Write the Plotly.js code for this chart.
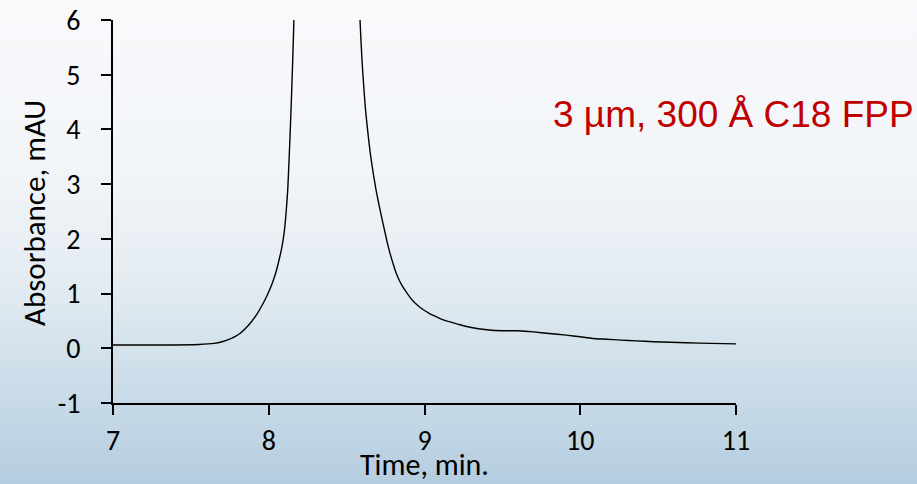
<!DOCTYPE html>
<html>
<head>
<meta charset="utf-8">
<script src="https://cdn.plot.ly/plotly-3.0.1.min.js"></script>
<style>
  html, body { margin: 0; padding: 0; }
  body {
    width: 917px; height: 484px; overflow: hidden;
    background: linear-gradient(to bottom, #f8f9fb 0%, #f2f5f8 35%, #e4ecf2 58%, #cfdfea 76%, #b5cde0 100%);
  }
  #chart { width: 917px; height: 484px; }
</style>
</head>
<body>
<div id="chart"></div>
<script>
// Chromatogram trace (time in min, absorbance in mAU); peak apex is off-scale
const timeMin = [7.00, 7.30, 7.55, 7.65, 7.70, 7.76, 7.815, 7.87, 7.923, 7.96, 7.99, 8.02, 8.045, 8.065, 8.085, 8.10, 8.112, 8.122, 8.132, 8.143, 8.152, 8.160, 8.20, 8.26, 8.33, 8.40, 8.47, 8.53, 8.586, 8.60, 8.62, 8.64, 8.655, 8.672, 8.689, 8.705, 8.719, 8.74, 8.761, 8.78, 8.80, 8.815, 8.832, 8.855, 8.88, 8.905, 8.928, 8.95, 8.97, 9.00, 9.03, 9.057, 9.09, 9.13, 9.18, 9.228, 9.30, 9.40, 9.50, 9.60, 9.70, 9.80, 9.91, 10.00, 10.08, 10.17, 10.26, 10.36, 10.47, 10.58, 10.68, 10.84, 11.00];
const absorbance = [0.06, 0.06, 0.07, 0.09, 0.12, 0.18, 0.27, 0.42, 0.62, 0.80, 0.97, 1.17, 1.38, 1.60, 1.86, 2.14, 2.50, 2.90, 3.55, 4.35, 5.10, 5.85, 11, 19, 25, 26, 21, 12, 6.00, 5.20, 4.40, 3.85, 3.50, 3.18, 2.89, 2.66, 2.47, 2.20, 1.93, 1.72, 1.53, 1.40, 1.28, 1.15, 1.04, 0.94, 0.86, 0.80, 0.75, 0.69, 0.64, 0.60, 0.555, 0.51, 0.47, 0.43, 0.38, 0.34, 0.32, 0.32, 0.30, 0.27, 0.24, 0.21, 0.18, 0.165, 0.15, 0.135, 0.12, 0.11, 0.10, 0.09, 0.08];
const xTicks = [7, 8, 9, 10, 11];
const yTicks = [-1, 0, 1, 2, 3, 4, 5, 6];
const xTitle = 'Time, min.';
const yTitle = 'Absorbance, mAU';
const label = '3 µm, 300 Å C18 FPP';

const fontFamily = 'Carlito, Calibri, Lato, sans-serif';
const tickFont = { family: fontFamily, size: 28, color: '#000000' };
const titleFont = { family: fontFamily, size: 30, color: '#000000' };

const trace = {
  x: timeMin, y: absorbance, type: 'scatter', mode: 'lines',
  line: { color: '#000000', width: 1.4, shape: 'spline', smoothing: 0.5 },
  hoverinfo: 'skip'
};

const layout = {
  width: 917, height: 484,
  margin: { l: 113, r: 181, t: 20, b: 81 },
  paper_bgcolor: 'rgba(0,0,0,0)',
  plot_bgcolor: 'rgba(0,0,0,0)',
  showlegend: false,
  xaxis: {
    range: [7, 11], tickvals: xTicks, ticktext: xTicks.map(String),
    showline: true, linecolor: '#000', linewidth: 2,
    ticks: 'outside', ticklen: 10, tickwidth: 2, tickcolor: '#000',
    showgrid: false, zeroline: false, tickfont: tickFont,
    ticklabelstandoff: 1
  },
  yaxis: {
    range: [-1, 6], tickvals: yTicks, ticktext: yTicks.map(String),
    showline: true, linecolor: '#000', linewidth: 2,
    ticks: 'outside', ticklen: 10, tickwidth: 2, tickcolor: '#000',
    showgrid: false, zeroline: false, tickfont: tickFont,
    ticklabelstandoff: 15
  },
  annotations: [
    {
      xref: 'paper', yref: 'paper', x: 0.703, y: 0.752,
      xanchor: 'left', yanchor: 'middle', showarrow: false,
      text: label,
      font: { family: 'Arial, "Liberation Sans", sans-serif', size: 37, color: '#C00000' }
    },
    {
      xref: 'paper', yref: 'paper', x: 0.5, y: -0.2115,
      xanchor: 'center', yanchor: 'bottom', showarrow: false,
      borderpad: 0,
      text: xTitle, font: titleFont
    },
    {
      xref: 'paper', yref: 'paper', x: -0.128, y: 0.497,
      xanchor: 'center', yanchor: 'middle', showarrow: false, textangle: -90,
      text: yTitle, font: { family: fontFamily, size: 31, color: '#000000' }
    }
  ]
};

Plotly.newPlot('chart', [trace], layout, { displayModeBar: false, staticPlot: true });
</script>
</body>
</html>
